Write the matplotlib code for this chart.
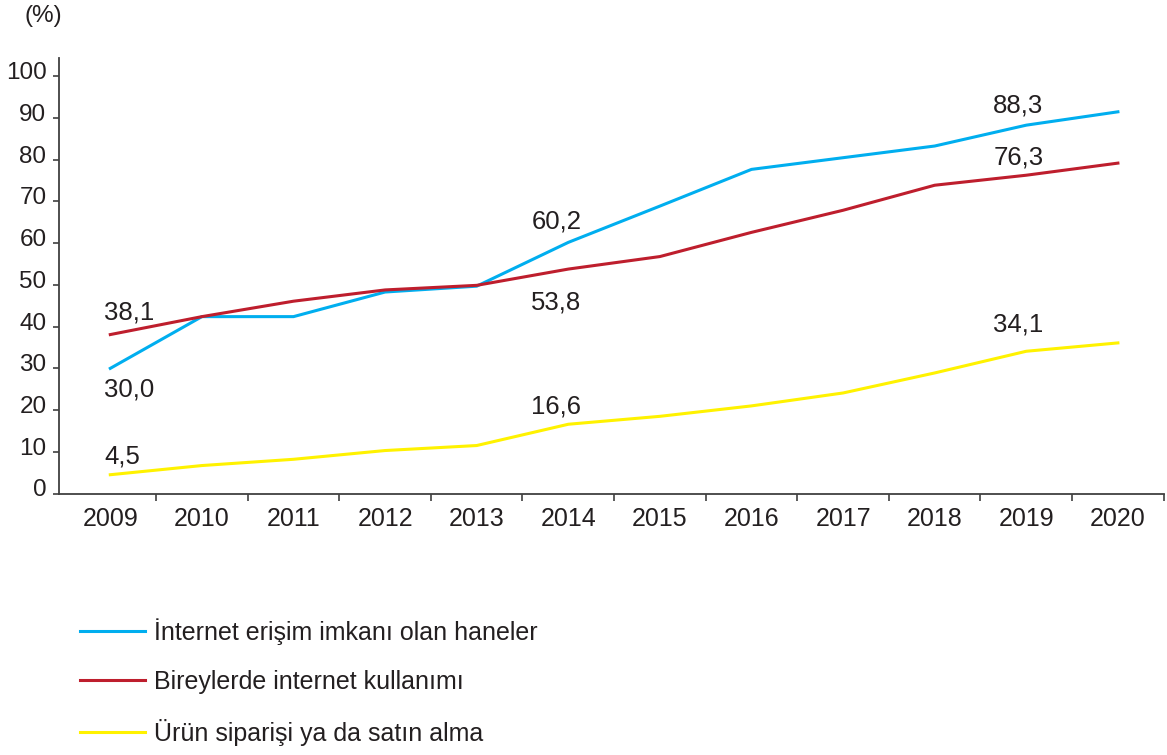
import matplotlib
matplotlib.use('Agg')
import matplotlib.pyplot as plt
import matplotlib.transforms as mtransforms
import numpy as np

plt.rcParams['font.family'] = ['Liberation Sans', 'DejaVu Sans']

years = ['2009', '2010', '2011', '2012', '2013', '2014',
         '2015', '2016', '2017', '2018', '2019', '2020']

# percentages per year
haneler = [30.0, 42.4, 42.4, 48.3, 49.7, 60.2, 68.9, 77.7, 80.5, 83.3, 88.3, 91.5]
bireyler = [38.1, 42.4, 46.1, 48.8, 49.9, 53.8, 56.8, 62.6, 67.9, 73.9, 76.3, 79.2]
siparis = [4.5, 6.7, 8.2, 10.3, 11.5, 16.6, 18.5, 21.0, 24.1, 28.9, 34.1, 36.1]

series_names = ['İnternet erişim imkanı olan haneler',
                'Bireylerde internet kullanımı',
                'Ürün siparişi ya da satın alma']
colors = ['#00aeef', '#be1e2d', '#fff200']

txt_col = '#231f20'
ax_col = '#404040'

fig = plt.figure(figsize=(11.67, 7.55), dpi=100)
ax = fig.add_axes([59/1167, 1 - 493.5/755, 1104.7/1167, 435.5/755])

x = np.arange(len(years))
lines = []
for vals, name, c in zip([haneler, bireyler, siparis], series_names, colors):
    ln, = ax.plot(x, vals, color=c, lw=2.2, label=name, solid_joinstyle='round')
    lines.append(ln)

# value labels: (series, year index, dx px, dy px)
labels = [
    (bireyler, 0, -6, 14.6),
    (haneler, 0, -6, -28.3),
    (siparis, 0, -6, 11.4),
    (haneler, 5, -37, 14.2),
    (bireyler, 5, -37, -40.8),
    (siparis, 5, -37, 11.0),
    (haneler, 10, -33, 12.6),
    (bireyler, 10, -33, 10.3),
    (siparis, 10, -33, 19.6),
]
for vals, i, dx, dy in labels:
    ax.annotate(f'{vals[i]:.1f}'.replace('.', ','), xy=(i, vals[i]),
                xytext=(dx, dy), textcoords='offset pixels',
                ha='left', va='baseline', fontsize=18.5, color=txt_col)

ax.set_xlim(-0.56, 11.5)
ax.set_ylim(0, 104.4)

for s in ['top', 'right']:
    ax.spines[s].set_visible(False)
for s in ['left', 'bottom']:
    ax.spines[s].set_color(ax_col)
    ax.spines[s].set_linewidth(1.3)

ax.set_yticks(np.arange(0, 101, 10))
ax.tick_params(axis='y', length=4, width=1.2, color=ax_col, pad=5,
               labelsize=17.5, labelcolor=txt_col)
# nudge y labels up a little
shift = mtransforms.ScaledTranslation(0, 4/72, fig.dpi_scale_trans)
for lab in ax.get_yticklabels():
    lab.set_transform(lab.get_transform() + shift)

ax.set_xticks(x)
ax.set_xticklabels(years)
ax.tick_params(axis='x', which='major', length=0, pad=10,
               labelsize=18, labelcolor=txt_col)
ax.set_xticks(np.arange(0.5, 11.6, 1), minor=True)
ax.tick_params(axis='x', which='minor', length=5, width=1.2, color=ax_col)

fig.text(25/1167, 1 - 16/755, '(%)', fontsize=17.5, color=txt_col,
         ha='left', va='center')

leg = fig.legend(handles=lines, loc='upper left',
                 bbox_to_anchor=(80/1167, 1 - 618/755),
                 frameon=False, fontsize=18, handlelength=2.6,
                 handletextpad=0.35, labelspacing=1.0,
                 borderpad=0, borderaxespad=0)
for t in leg.get_texts():
    t.set_color(txt_col)
for h in leg.legend_handles:
    h.set_linewidth(2.2)

fig.savefig('out.png', dpi=100)
